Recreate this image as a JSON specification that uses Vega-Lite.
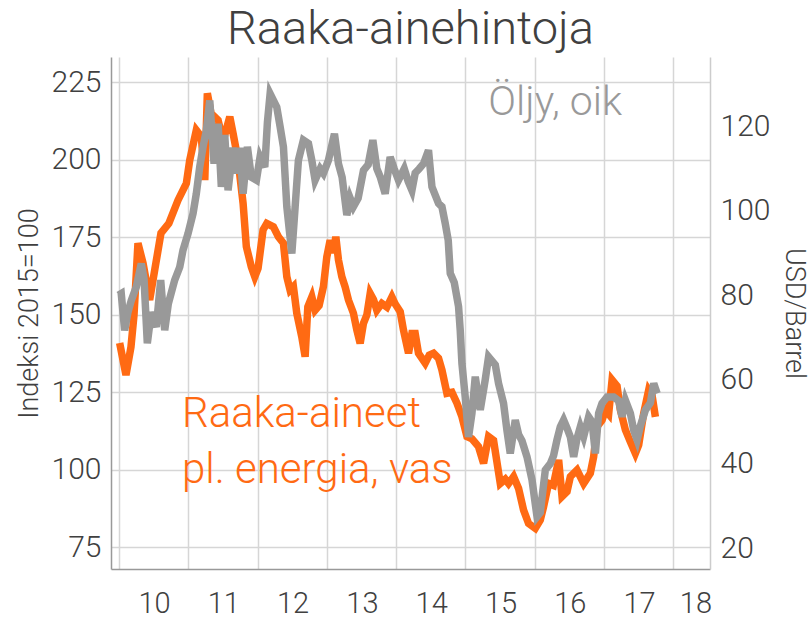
{
  "$schema": "https://vega.github.io/schema/vega-lite/v6.json",
  "width": 599,
  "height": 512,
  "autosize": {"type": "none"},
  "padding": {"left": 111, "top": 57, "right": 100, "bottom": 50},
  "background": "white",
  "title": {"text": "Raaka-ainehintoja", "fontSize": 47, "font": "Roboto", "fontWeight": 300, "color": "#404040", "offset": 3, "anchor": "middle"},
  "config": {
    "view": {"stroke": null},
    "axis": {"labelFont": "Roboto", "titleFont": "Roboto", "labelColor": "#404040", "titleColor": "#404040", "labelFontSize": 30, "labelFontWeight": 300, "titleFontSize": 27, "titleFontWeight": 300, "ticks": false, "gridColor": "#d6d6d6", "gridWidth": 1.5, "labelOverlap": false, "labelFlush": false, "labelBound": false}
  },
  "datasets": {
    "idx": [
      {"t": 2010.010, "v": 140.9}, {"t": 2010.101, "v": 130.6}, {"t": 2010.173, "v": 139.6}, {"t": 2010.217, "v": 150},
      {"t": 2010.274, "v": 173.1}, {"t": 2010.347, "v": 166.7}, {"t": 2010.443, "v": 154.8}, {"t": 2010.516, "v": 164.5},
      {"t": 2010.606, "v": 176.4}, {"t": 2010.720, "v": 179.5}, {"t": 2010.852, "v": 187}, {"t": 2010.972, "v": 192.4},
      {"t": 2011.021, "v": 199.9}, {"t": 2011.116, "v": 209.6}, {"t": 2011.188, "v": 207.5}, {"t": 2011.238, "v": 193.5},
      {"t": 2011.275, "v": 221.5}, {"t": 2011.329, "v": 215}, {"t": 2011.430, "v": 212.8}, {"t": 2011.502, "v": 206},
      {"t": 2011.599, "v": 213.9}, {"t": 2011.646, "v": 208.6}, {"t": 2011.718, "v": 200}, {"t": 2011.791, "v": 186},
      {"t": 2011.838, "v": 172}, {"t": 2011.910, "v": 165.5}, {"t": 2011.960, "v": 162.3}, {"t": 2012.007, "v": 165},
      {"t": 2012.079, "v": 177.4}, {"t": 2012.133, "v": 179.5}, {"t": 2012.228, "v": 178.4}, {"t": 2012.300, "v": 175.2},
      {"t": 2012.373, "v": 173.1}, {"t": 2012.422, "v": 162.3}, {"t": 2012.469, "v": 158}, {"t": 2012.517, "v": 159.1},
      {"t": 2012.566, "v": 150.5}, {"t": 2012.638, "v": 142.9}, {"t": 2012.686, "v": 136.5}, {"t": 2012.725, "v": 152.6},
      {"t": 2012.783, "v": 155.8}, {"t": 2012.830, "v": 151.5}, {"t": 2012.888, "v": 153}, {"t": 2012.950, "v": 159.1},
      {"t": 2012.999, "v": 168.7}, {"t": 2013.047, "v": 174.1}, {"t": 2013.090, "v": 170}, {"t": 2013.129, "v": 175.2},
      {"t": 2013.167, "v": 167.7}, {"t": 2013.216, "v": 162.3}, {"t": 2013.264, "v": 159}, {"t": 2013.311, "v": 154.8},
      {"t": 2013.383, "v": 150.5}, {"t": 2013.432, "v": 145.1}, {"t": 2013.480, "v": 140.8}, {"t": 2013.528, "v": 147.3},
      {"t": 2013.577, "v": 150}, {"t": 2013.625, "v": 156.9}, {"t": 2013.672, "v": 155}, {"t": 2013.721, "v": 151.5},
      {"t": 2013.793, "v": 153.7}, {"t": 2013.866, "v": 152.5}, {"t": 2013.938, "v": 155.8}, {"t": 2013.986, "v": 153.5},
      {"t": 2014.058, "v": 151}, {"t": 2014.105, "v": 145.1}, {"t": 2014.178, "v": 137.6}, {"t": 2014.227, "v": 144},
      {"t": 2014.274, "v": 144}, {"t": 2014.322, "v": 137.6}, {"t": 2014.419, "v": 134.4}, {"t": 2014.477, "v": 137},
      {"t": 2014.539, "v": 137.6}, {"t": 2014.611, "v": 136}, {"t": 2014.660, "v": 132.2}, {"t": 2014.732, "v": 124.7},
      {"t": 2014.804, "v": 125}, {"t": 2014.877, "v": 121.5}, {"t": 2014.949, "v": 117.1}, {"t": 2015.021, "v": 110.7},
      {"t": 2015.093, "v": 110}, {"t": 2015.188, "v": 107.5}, {"t": 2015.261, "v": 102.1}, {"t": 2015.333, "v": 110.7},
      {"t": 2015.405, "v": 109.5}, {"t": 2015.502, "v": 95.6}, {"t": 2015.574, "v": 97}, {"t": 2015.622, "v": 95.6},
      {"t": 2015.694, "v": 97.8}, {"t": 2015.766, "v": 94}, {"t": 2015.838, "v": 87}, {"t": 2015.910, "v": 82.7},
      {"t": 2016.007, "v": 81.1}, {"t": 2016.079, "v": 83.8}, {"t": 2016.127, "v": 88.1}, {"t": 2016.199, "v": 95.6},
      {"t": 2016.267, "v": 95}, {"t": 2016.344, "v": 103.2}, {"t": 2016.393, "v": 91.4}, {"t": 2016.465, "v": 93},
      {"t": 2016.513, "v": 97.8}, {"t": 2016.609, "v": 99.9}, {"t": 2016.705, "v": 95.6}, {"t": 2016.801, "v": 98.9},
      {"t": 2016.849, "v": 104.2}, {"t": 2016.898, "v": 113.9}, {"t": 2016.970, "v": 116}, {"t": 2017.018, "v": 119.3},
      {"t": 2017.066, "v": 118}, {"t": 2017.115, "v": 129}, {"t": 2017.187, "v": 127}, {"t": 2017.235, "v": 119.3},
      {"t": 2017.307, "v": 112.9}, {"t": 2017.379, "v": 109}, {"t": 2017.451, "v": 105.3}, {"t": 2017.499, "v": 108},
      {"t": 2017.571, "v": 118.2}, {"t": 2017.643, "v": 125.7}, {"t": 2017.692, "v": 124}, {"t": 2017.740, "v": 117.1}
    ],
    "oil": [
      {"t": 2009.993, "o": 80}, {"t": 2010.033, "o": 80.4}, {"t": 2010.082, "o": 71.7}, {"t": 2010.130, "o": 76},
      {"t": 2010.178, "o": 78.8}, {"t": 2010.250, "o": 82}, {"t": 2010.322, "o": 87.5}, {"t": 2010.361, "o": 84},
      {"t": 2010.409, "o": 68.6}, {"t": 2010.466, "o": 76}, {"t": 2010.539, "o": 72.5}, {"t": 2010.602, "o": 83.6},
      {"t": 2010.660, "o": 71.7}, {"t": 2010.712, "o": 78}, {"t": 2010.804, "o": 83.6}, {"t": 2010.877, "o": 86.7},
      {"t": 2010.924, "o": 90.7}, {"t": 2010.996, "o": 94.6}, {"t": 2011.069, "o": 99.4}, {"t": 2011.116, "o": 104.1},
      {"t": 2011.165, "o": 110.4}, {"t": 2011.213, "o": 115.2}, {"t": 2011.261, "o": 119.1}, {"t": 2011.310, "o": 126.2},
      {"t": 2011.372, "o": 111.2}, {"t": 2011.430, "o": 120.7}, {"t": 2011.477, "o": 105.7}, {"t": 2011.526, "o": 118},
      {"t": 2011.574, "o": 104.9}, {"t": 2011.646, "o": 115}, {"t": 2011.694, "o": 108.9}, {"t": 2011.743, "o": 115},
      {"t": 2011.791, "o": 104.1}, {"t": 2011.853, "o": 115.2}, {"t": 2011.910, "o": 108}, {"t": 2011.983, "o": 107.3},
      {"t": 2012.036, "o": 112.8}, {"t": 2012.104, "o": 110.4}, {"t": 2012.142, "o": 121}, {"t": 2012.181, "o": 127.8},
      {"t": 2012.277, "o": 124.6}, {"t": 2012.325, "o": 120}, {"t": 2012.373, "o": 115.2}, {"t": 2012.422, "o": 101},
      {"t": 2012.494, "o": 89.9}, {"t": 2012.542, "o": 101}, {"t": 2012.589, "o": 112}, {"t": 2012.661, "o": 116.8},
      {"t": 2012.734, "o": 116}, {"t": 2012.783, "o": 112}, {"t": 2012.830, "o": 107.3}, {"t": 2012.903, "o": 110},
      {"t": 2012.950, "o": 108.9}, {"t": 2013.022, "o": 112}, {"t": 2013.109, "o": 118.3}, {"t": 2013.167, "o": 111.2},
      {"t": 2013.220, "o": 108}, {"t": 2013.288, "o": 99}, {"t": 2013.336, "o": 103}, {"t": 2013.383, "o": 101},
      {"t": 2013.451, "o": 103}, {"t": 2013.528, "o": 109.6}, {"t": 2013.596, "o": 111}, {"t": 2013.663, "o": 116.8},
      {"t": 2013.721, "o": 110}, {"t": 2013.769, "o": 108.1}, {"t": 2013.841, "o": 104.1}, {"t": 2013.913, "o": 112.8},
      {"t": 2013.971, "o": 110}, {"t": 2014.033, "o": 107.3}, {"t": 2014.116, "o": 110}, {"t": 2014.173, "o": 107},
      {"t": 2014.227, "o": 104.9}, {"t": 2014.274, "o": 109}, {"t": 2014.332, "o": 110}, {"t": 2014.394, "o": 111.2},
      {"t": 2014.466, "o": 114.4}, {"t": 2014.516, "o": 105.7}, {"t": 2014.611, "o": 101.8}, {"t": 2014.660, "o": 101},
      {"t": 2014.708, "o": 97}, {"t": 2014.751, "o": 93}, {"t": 2014.780, "o": 85.2}, {"t": 2014.838, "o": 83},
      {"t": 2014.900, "o": 77.3}, {"t": 2014.924, "o": 71.7}, {"t": 2014.949, "o": 63.8}, {"t": 2014.996, "o": 55.9},
      {"t": 2015.044, "o": 46.4}, {"t": 2015.093, "o": 52}, {"t": 2015.141, "o": 60.7}, {"t": 2015.188, "o": 55.5},
      {"t": 2015.213, "o": 52.8}, {"t": 2015.285, "o": 60}, {"t": 2015.333, "o": 65.4}, {"t": 2015.430, "o": 63.5},
      {"t": 2015.477, "o": 59.1}, {"t": 2015.549, "o": 54.4}, {"t": 2015.598, "o": 48}, {"t": 2015.646, "o": 42.5},
      {"t": 2015.718, "o": 50.4}, {"t": 2015.766, "o": 47}, {"t": 2015.815, "o": 45.5}, {"t": 2015.887, "o": 41.7},
      {"t": 2015.960, "o": 36.2}, {"t": 2016.032, "o": 27.5}, {"t": 2016.079, "o": 28.5}, {"t": 2016.152, "o": 38.6},
      {"t": 2016.224, "o": 40.1}, {"t": 2016.271, "o": 42}, {"t": 2016.320, "o": 45.7}, {"t": 2016.368, "o": 48.8},
      {"t": 2016.416, "o": 50.4}, {"t": 2016.465, "o": 48.5}, {"t": 2016.513, "o": 46.4}, {"t": 2016.561, "o": 41.7},
      {"t": 2016.609, "o": 46}, {"t": 2016.657, "o": 48.8}, {"t": 2016.705, "o": 46.5}, {"t": 2016.777, "o": 51.2},
      {"t": 2016.826, "o": 50}, {"t": 2016.874, "o": 42.5}, {"t": 2016.921, "o": 52}, {"t": 2016.970, "o": 54.4},
      {"t": 2017.043, "o": 55.9}, {"t": 2017.138, "o": 55.9}, {"t": 2017.210, "o": 55}, {"t": 2017.259, "o": 51.2},
      {"t": 2017.307, "o": 55.1}, {"t": 2017.379, "o": 52}, {"t": 2017.427, "o": 48}, {"t": 2017.476, "o": 45.7},
      {"t": 2017.523, "o": 49}, {"t": 2017.596, "o": 52.8}, {"t": 2017.668, "o": 54.5}, {"t": 2017.716, "o": 59.1},
      {"t": 2017.765, "o": 56.7}
    ],
    "labIdx": [
      {"t": 2010.91, "v": 113.8, "text": "Raaka-aineet"},
      {"t": 2010.91, "v": 95.7, "text": "pl. energia, vas"}
    ],
    "labOil": [
      {"t": 2015.329, "o": 122.7, "text": "Öljy, oik"}
    ]
  },
  "layer": [
    {
      "data": {"name": "idx"},
      "mark": {"type": "line", "color": "#FF6A13", "strokeWidth": 7.5},
      "encoding": {
        "x": {"field": "t", "type": "quantitative",
              "scale": {"domain": [2009.885, 2018.528], "nice": false, "zero": false},
              "axis": {"title": null, "values": [2010, 2011, 2012, 2013, 2014, 2015, 2016, 2017, 2018], "grid": true,
                       "labelExpr": "'' + (datum.value - 2000)", "labelPadding": 20, "labelFontSize": 29,
                       "labelOffset": {"condition": {"test": "datum.value == 2018", "value": 22}, "value": 35},
                       "domainColor": "#999999", "domainWidth": 1.5}},
        "y": {"field": "v", "type": "quantitative",
              "scale": {"domain": [68, 233.2], "nice": false, "zero": false},
              "axis": {"orient": "left", "title": "Indeksi 2015=100", "values": [75, 100, 125, 150, 175, 200, 225], "grid": true,
                       "labelPadding": 10, "titlePadding": 8, "domainColor": "#999999", "domainWidth": 1.5}}
      }
    },
    {
      "data": {"name": "labIdx"},
      "mark": {"type": "text", "color": "#FF6A13", "font": "Roboto", "fontWeight": 300, "fontSize": 42, "align": "left", "baseline": "alphabetic"},
      "encoding": {
        "x": {"field": "t", "type": "quantitative"},
        "y": {"field": "v", "type": "quantitative", "scale": {"domain": [68, 233.2], "nice": false, "zero": false}, "axis": null},
        "text": {"field": "text"}
      }
    },
    {
      "data": {"name": "oil"},
      "mark": {"type": "line", "color": "#999999", "strokeWidth": 7.5},
      "encoding": {
        "x": {"field": "t", "type": "quantitative"},
        "y": {"field": "o", "type": "quantitative",
              "scale": {"domain": [15.1, 136.5], "nice": false, "zero": false},
              "axis": {"orient": "right", "title": "USD/Barrel", "titleAngle": 90, "values": [20, 40, 60, 80, 100, 120], "grid": false,
                       "labelPadding": 10, "titlePadding": 10, "domainColor": "#cccccc", "domainWidth": 1.5}}
      }
    },
    {
      "data": {"name": "labOil"},
      "mark": {"type": "text", "color": "#999999", "font": "Roboto", "fontWeight": 300, "fontSize": 41, "align": "left", "baseline": "alphabetic"},
      "encoding": {
        "x": {"field": "t", "type": "quantitative"},
        "y": {"field": "o", "type": "quantitative", "scale": {"domain": [15.1, 136.5], "nice": false, "zero": false}, "axis": null},
        "text": {"field": "text"}
      }
    }
  ],
  "resolve": {"scale": {"y": "independent"}}
}
